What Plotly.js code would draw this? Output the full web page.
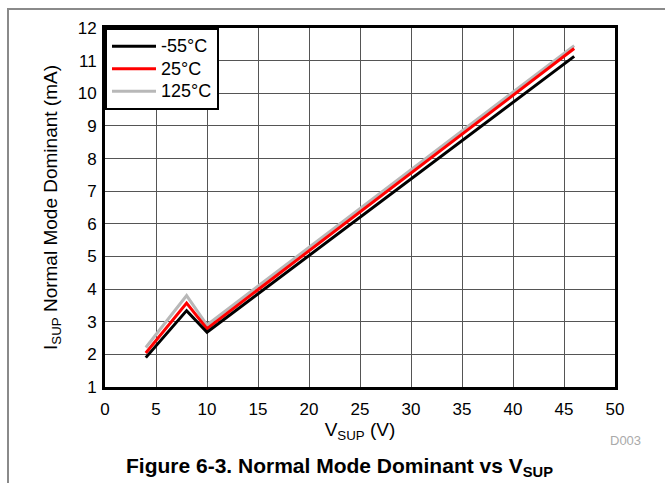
<!DOCTYPE html>
<html>
<head>
<meta charset="utf-8">
<script src="https://cdn.plot.ly/plotly-3.0.1.min.js"></script>
<style>
html,body{margin:0;padding:0;background:#fff;}
#wrap{position:relative;width:665px;height:483px;}
#chart{width:665px;height:483px;}
#frame{position:absolute;left:7px;top:8px;right:0;bottom:0;border-top:2px solid #8a8a8a;border-left:2px solid #8a8a8a;pointer-events:none;}
</style>
</head>
<body>
<div id="wrap"><div id="chart"></div><div id="frame"></div></div>
<script>
var vsup = [4, 8, 10, 46];
var iM55 = [1.9, 3.34, 2.68, 11.13];
var i25 = [2.04, 3.57, 2.79, 11.37];
var i125 = [2.21, 3.8, 2.9, 11.46];
var seriesNames = ['-55°C', '25°C', '125°C'];
var xTicks = [0,5,10,15,20,25,30,35,40,45,50];
var yTicks = [1,2,3,4,5,6,7,8,9,10,11,12];

var font = 'Liberation Sans, Arial, sans-serif';
function legendLabel(s) { return '<span style="font-size:18px">' + s + '</span>'; }
var traces = [
  {x: vsup, y: i125, name: legendLabel(seriesNames[2]), mode: 'lines', line: {color: '#b8b8b8', width: 3}},
  {x: vsup, y: i25, name: legendLabel(seriesNames[1]), mode: 'lines', line: {color: '#ff0000', width: 3}},
  {x: vsup, y: iM55, name: legendLabel(seriesNames[0]), mode: 'lines', line: {color: '#000000', width: 3}}
];
var layout = {
  width: 665, height: 483,
  margin: {l: 105, r: 50, t: 28, b: 96},
  paper_bgcolor: '#fff', plot_bgcolor: '#fff',
  font: {family: font, size: 17, color: '#000'},
  showlegend: true,
  legend: {x: 0, y: 1, xanchor: 'left', yanchor: 'top', bgcolor: '#fff', bordercolor: '#000', borderwidth: 2,
           traceorder: 'reversed', font: {size: 15, family: font}, tracegroupgap: 0, itemwidth: 44},
  xaxis: {range: [0, 50], tickvals: xTicks, ticktext: xTicks.map(String), showgrid: true, gridcolor: '#555', gridwidth: 1,
          showline: true, linecolor: '#000', linewidth: 3, mirror: true, zeroline: false, ticks: '',
          ticklabelstandoff: 5,
          tickfont: {size: 17}, title: {text: 'V<sub>SUP</sub> (V)', font: {size: 19}, standoff: 5}},
  yaxis: {range: [1, 12], tickvals: yTicks, ticktext: yTicks.map(String), showgrid: true, gridcolor: '#555', gridwidth: 1,
          showline: true, linecolor: '#000', linewidth: 3, mirror: true, zeroline: false, ticks: '',
          ticklabelstandoff: 2,
          tickfont: {size: 17}, title: {text: 'I<sub>SUP</sub> Normal Mode Dominant (mA)', font: {size: 19}, standoff: 16}},
  annotations: [
    {text: 'D003', xref: 'paper', yref: 'paper', x: 1.055, y: -0.148, xanchor: 'right', yanchor: 'middle', showarrow: false,
     font: {size: 13, color: '#aaaaaa'}},
    {text: '<b>Figure 6-3. Normal Mode Dominant vs V<sub>SUP</sub></b>', xref: 'paper', yref: 'paper', x: 0.46, y: -0.223,
     xanchor: 'center', yanchor: 'middle', showarrow: false, font: {size: 21}}
  ]
};
Plotly.newPlot('chart', traces, layout, {displayModeBar: false, staticPlot: true});
</script>
</body>
</html>
